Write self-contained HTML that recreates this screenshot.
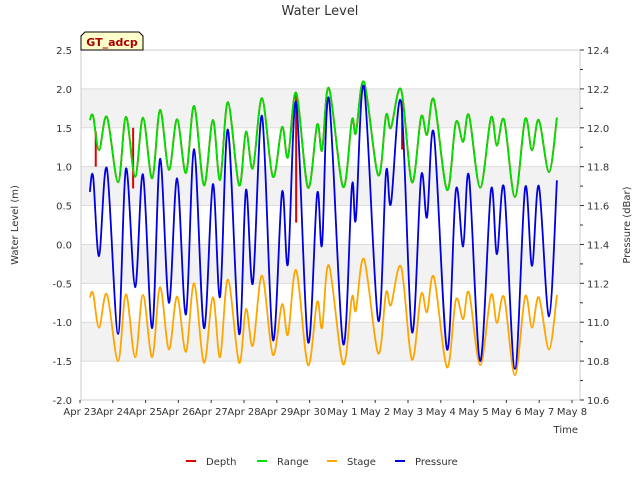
<!DOCTYPE html>
<html><head><meta charset="utf-8"><style>
body{margin:0;background:#fff;font-family:"Liberation Sans","DejaVu Sans",sans-serif;}
svg text{font-family:"DejaVu Sans","Liberation Sans",sans-serif;}
</style></head><body>
<svg id="c" width="640" height="480" xmlns="http://www.w3.org/2000/svg"></svg>
<script>
const tDays=[0.30,0.40,0.58,0.82,1.16,1.40,1.68,1.92,2.20,2.44,2.71,2.96,3.23,3.48,3.78,4.05,4.27,4.51,4.85,5.06,5.27,5.55,5.88,6.16,6.34,6.59,6.95,7.23,7.38,7.59,8.02,8.29,8.41,8.66,9.09,9.33,9.48,9.79,10.12,10.40,10.58,10.79,11.19,11.46,11.68,11.86,12.20,12.53,12.71,12.93,13.26,13.57,13.78,13.99,14.30,14.54];
const pressure=[11.67,11.75,11.34,11.79,10.94,11.79,11.18,11.76,10.97,11.84,11.10,11.74,11.04,11.89,10.97,11.71,11.13,11.99,10.94,11.68,11.20,12.06,10.91,11.67,11.30,12.13,10.90,11.66,11.40,12.15,10.89,11.70,11.53,12.21,11.01,11.77,11.61,12.13,10.95,11.75,11.54,11.97,10.86,11.68,11.39,11.75,10.80,11.68,11.35,11.69,10.76,11.69,11.29,11.70,11.03,11.73];
const range=[1.60,1.65,1.21,1.64,0.80,1.64,0.87,1.63,0.85,1.73,0.96,1.61,0.92,1.78,0.76,1.60,0.83,1.83,0.76,1.45,0.98,1.88,0.87,1.51,1.12,1.95,0.73,1.54,1.21,2.01,0.74,1.60,1.43,2.09,0.89,1.66,1.50,1.99,0.80,1.64,1.41,1.86,0.70,1.57,1.32,1.66,0.73,1.63,1.27,1.60,0.61,1.61,1.21,1.60,0.93,1.63];
const stage=[-0.68,-0.63,-1.07,-0.64,-1.50,-0.64,-1.45,-0.65,-1.45,-0.55,-1.35,-0.67,-1.38,-0.50,-1.52,-0.68,-1.45,-0.45,-1.52,-0.83,-1.30,-0.40,-1.42,-0.77,-1.16,-0.33,-1.55,-0.74,-1.07,-0.27,-1.54,-0.68,-0.85,-0.19,-1.40,-0.62,-0.78,-0.29,-1.48,-0.64,-0.87,-0.42,-1.58,-0.71,-0.96,-0.62,-1.55,-0.65,-1.01,-0.68,-1.68,-0.67,-1.07,-0.68,-1.35,-0.65];
const depthSpikeT=[0.48,1.62,6.59,9.82];
const depthSpikeTop=[1.45,1.50,1.95,1.85];
const depthSpikeBottom=[1.00,0.72,0.28,1.22];
const leftTicks=[2.5,2.0,1.5,1.0,0.5,0.0,-0.5,-1.0,-1.5,-2.0];
const rightTicks=[12.4,12.2,12.0,11.8,11.6,11.4,11.2,11.0,10.8,10.6];
const xLabels=["Apr 23","Apr 24","Apr 25","Apr 26","Apr 27","Apr 28","Apr 29","Apr 30","May 1","May 2","May 3","May 4","May 5","May 6","May 7","May 8"];

const L=81,R=580,T=50,B=400,X0=80,DAY=32.8;
const xs=d=>X0+d*DAY;
const yl=v=>T+(2.5-v)*(B-T)/4.5;
const yr=v=>T+(12.4-v)*(B-T)/1.8;
const svg=document.getElementById('c');
const NS="http://www.w3.org/2000/svg";
function mk(tag,attrs,parent){const e=document.createElementNS(NS,tag);for(const k in attrs)e.setAttribute(k,attrs[k]);(parent||svg).appendChild(e);return e;}
function txt(s,attrs){const e=mk('text',attrs);e.textContent=s;return e;}

[[2.0,1.5],[1.0,0.5],[0.0,-0.5],[-1.0,-1.5]].forEach(b=>{
 const r=mk('rect',{x:L,y:yl(b[0]),width:R-L,height:yl(b[1])-yl(b[0]),fill:'#f2f2f2'});
 
 
});
leftTicks.forEach(v=>{
 const g=mk('line',{x1:L,x2:R,y1:yl(v),y2:yl(v),stroke:'#dcdcdc','stroke-width':1});
 
 
 const t=txt(v.toFixed(1),{x:72,y:yl(v)+4,'text-anchor':'end','font-size':10,fill:'#333'});
 
 
});
const fr=mk('rect',{x:L,y:T,width:R-L,height:B-T,fill:'none',stroke:'#ccc'});


rightTicks.forEach((v,i)=>{
 const t=txt(v.toFixed(1),{x:587,y:yr(v)+4,'font-size':10,fill:'#333'});
 
 
 mk('line',{x1:R,x2:R+4,y1:yr(v),y2:yr(v),stroke:'#333'});
 if(i<rightTicks.length-1){const m=v-0.1;mk('line',{x1:R,x2:R+3,y1:yr(m),y2:yr(m),stroke:'#333'});}
});
xLabels.forEach((s,i)=>{
 mk('line',{x1:xs(i),x2:xs(i),y1:B,y2:B+3,stroke:'#333'});
 const t=txt(s,{x:xs(i),y:415,'text-anchor':'middle','font-size':10,fill:'#333'});
 
 
});
function path(ts,vs,yf){
 const p=ts.map((t,i)=>[xs(t),yf(vs[i])]);
 let d='M'+p[0][0]+','+p[0][1];
 for(let i=0;i<p.length-1;i++){
  const p0=p[i-1]||p[i],p1=p[i],p2=p[i+1],p3=p[i+2]||p2;
  const c1=[p1[0]+(p2[0]-p0[0])/6,p1[1]+(p2[1]-p0[1])/6];
  const c2=[p2[0]-(p3[0]-p1[0])/6,p2[1]-(p3[1]-p1[1])/6];
  d+=`C${c1[0]},${c1[1]} ${c2[0]},${c2[1]} ${p2[0]},${p2[1]}`;
 }
 return d;
}
depthSpikeT.forEach((t,i)=>{
 const s=mk('line',{x1:xs(t),x2:xs(t),y1:yl(depthSpikeTop[i]),y2:yl(depthSpikeBottom[i]),stroke:'#e00000','stroke-width':2});
 
 
});
const s1=mk('path',{d:path(tDays,range,yl),fill:'none',stroke:'#e00000','stroke-width':1.8});


const s2=mk('path',{d:path(tDays,range,yl),fill:'none',stroke:'#00e000','stroke-width':1.8});


const s3=mk('path',{d:path(tDays,stage,yl),fill:'none',stroke:'#ffa500','stroke-width':1.8});


const s4=mk('path',{d:path(tDays,pressure,yr),fill:'none',stroke:'#0000e0','stroke-width':1.8});



const title=txt('Water Level',{x:320,y:15,'text-anchor':'middle','font-size':13,fill:'#333'});


const yt=txt('Water Level (m)',{x:18,y:225,'text-anchor':'middle','font-size':10,fill:'#333',transform:'rotate(-90 18 225)'});


const y2t=txt('Pressure (dBar)',{x:630,y:225,'text-anchor':'middle','font-size':10,fill:'#333',transform:'rotate(-90 630 225)'});


const xt=txt('Time',{x:578,y:433,'text-anchor':'end','font-size':10,fill:'#333'});



const tag=mk('path',{d:'M81,50 L81,36 L85,32 L139,32 L143,36 L143,50 Z',fill:'#ffffcc',stroke:'#000'});


const tagt=txt('GT_adcp',{x:112,y:46,'text-anchor':'middle','font-size':11,'font-weight':'bold',fill:'#aa0000'});



[['Depth','#e00000',186],['Range','#00e000',257],['Stage','#ffa500',327],['Pressure','#0000e0',395]].forEach(l=>{
 const g=mk('g',{});
 
 
 mk('line',{x1:l[2],x2:l[2]+10,y1:461,y2:461,stroke:l[1],'stroke-width':2},g);
 const t=mk('text',{x:l[2]+20,y:465,'font-size':10,fill:'#333'},g);t.textContent=l[0];
});
</script>
</body></html>
